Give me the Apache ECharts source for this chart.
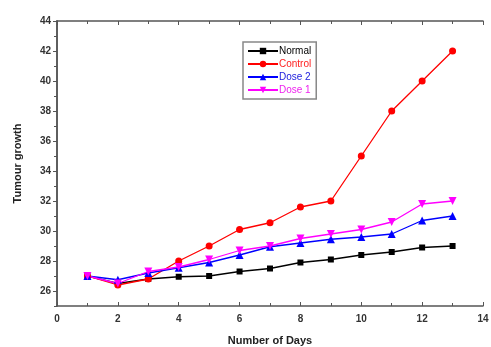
<!DOCTYPE html>
<html><head><meta charset="utf-8">
<script src="https://cdn.jsdelivr.net/npm/echarts@6/dist/echarts.min.js"></script>
<style>html,body{margin:0;padding:0;background:#fff}#c{width:491px;height:347px}</style>
</head><body><div id="c"></div>
<script>
const days = [1,2,3,4,5,6,7,8,9,10,11,12,13];
const normal  = [27.0,26.5,26.8,26.95,27.0,27.3,27.5,27.9,28.1,28.4,28.6,28.9,29.0];
const control = [27.0,26.4,26.8,28.0,29.0,30.1,30.55,31.6,32.0,35.0,38.0,40.0,42.0];
const dose2   = [27.0,26.75,27.2,27.55,27.9,28.4,28.95,29.2,29.45,29.6,29.8,30.7,31.0];
const dose1   = [27.0,26.5,27.3,27.6,28.1,28.7,29.0,29.5,29.8,30.1,30.6,31.8,32.0];
const yTicks = [26,28,30,32,34,36,38,40,42,44];

const chart = echarts.init(document.getElementById('c'));
const pair = a => days.map((d,i)=>[d,a[i]]);
const lbl = {fontFamily:'Liberation Sans, Arial', fontWeight:'bold', fontSize:10, color:'#333'};
const axLine = {show:true, lineStyle:{color:'#555', width:1.5}};
function s(name, data, color, symbol, rot){
  return {name, type:'line', data:pair(data), symbol, symbolSize: symbol==='circle'?7:(symbol==='rect'?6:8), symbolRotate: rot||0,
    lineStyle:{color, width:1.3}, itemStyle:{color}, xAxisIndex:0, yAxisIndex:0, animation:false};
}
chart.setOption({
  animation:false,
  grid:{left:57, right:8, top:21, bottom:41, containLabel:false, outerBoundsMode:'none'},
  legend:{
    orient:'vertical', left:243, top:42, itemGap:3, itemWidth:30, itemHeight:8,
    padding:[4,5,4,4], borderColor:'#888', borderWidth:1.5, backgroundColor:'#fff',
    textStyle:{fontFamily:'Liberation Sans, Arial', fontSize:10, padding:[0,0,0,-4]},
    data:[
      {name:'Normal', textStyle:{color:'#000'}},
      {name:'Control', textStyle:{color:'#ff2020'}},
      {name:'Dose 2', textStyle:{color:'#2020dd'}},
      {name:'Dose 1', textStyle:{color:'#ee22ee'}}
    ]
  },
  xAxis:[
    {type:'value', min:0, max:14, interval:2, position:'bottom',
     name:'Number of Days', nameLocation:'middle', nameGap:29,
     nameTextStyle:{fontFamily:'Liberation Sans, Arial', fontWeight:'bold', fontSize:11, color:'#222'},
     axisLine:axLine, axisTick:{show:true, length:4, inside:true, lineStyle:{color:'#555'}},
     minorTick:{show:true, splitNumber:2, length:3, lineStyle:{color:'#555'}},
     axisLabel:{...lbl, margin:8}, splitLine:{show:false}},
    {type:'value', min:0, max:14, interval:2, position:'top',
     axisLine:axLine, axisTick:{show:true, length:4, inside:true, lineStyle:{color:'#555'}},
     minorTick:{show:true, splitNumber:2, length:3, lineStyle:{color:'#555'}},
     axisLabel:{show:false}, splitLine:{show:false}}
  ],
  yAxis:[
    {type:'value', min:25, max:44, position:'left',
     name:'Tumour growth', nameLocation:'middle', nameGap:34,
     nameTextStyle:{fontFamily:'Liberation Sans, Arial', fontWeight:'bold', fontSize:11, color:'#222'},
     axisLine:axLine,
     axisTick:{show:true, length:4, customValues:yTicks, lineStyle:{color:'#555'}},
     axisLabel:{...lbl, margin:6, customValues:yTicks}, splitLine:{show:false}},
    {type:'value', min:25, max:44, interval:1, position:'right',
     axisLine:axLine, axisTick:{show:true, length:3, inside:true, lineStyle:{color:'#555'}},
     axisLabel:{show:false}, splitLine:{show:false}},
    {type:'value', min:25, max:44, interval:1, position:'left',
     axisLine:{show:false}, axisTick:{show:true, length:2, lineStyle:{color:'#555'}},
     axisLabel:{show:false}, splitLine:{show:false}}
  ],
  series:[
    s('Normal', normal, '#000000', 'rect'),
    s('Control', control, '#ff0000', 'circle'),
    s('Dose 2', dose2, '#0000ff', 'triangle'),
    s('Dose 1', dose1, '#ff00ff', 'triangle', 180)
  ]
});
</script></body></html>
